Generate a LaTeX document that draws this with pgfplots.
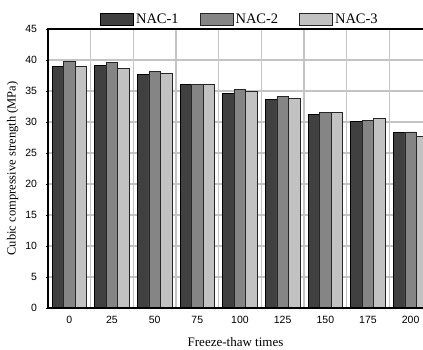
\documentclass[border=0pt]{standalone}
\usepackage{fontspec}
\setmainfont{Liberation Serif}
\newfontfamily\arialf{Liberation Sans}
\usepackage{pgfplots}
\pgfplotsset{compat=1.18}
\definecolor{cA}{HTML}{404040}
\definecolor{cB}{HTML}{858585}
\definecolor{cC}{HTML}{C2C2C2}
\definecolor{gridc}{HTML}{C4C4C4}
\pgfplotsset{mylegend/.style={legend image code/.code={\draw[##1] (0pt,-6pt) rectangle (33pt,6pt);}}}
\begin{document}
\begin{tikzpicture}
\path[use as bounding box] (-48pt,-42pt) rectangle (375pt,308pt);
\begin{axis}[
  name=ax,
  at={(0,0)}, anchor=south west,
  scale only axis, width=375pt, height=279pt,
  xmin=-0.5, xmax=8.289, ymin=0, ymax=45,
  axis x line=box, axis y line=left,
  y axis line style={-},
  ybar=0pt, bar width=11.5pt,
  xtick={0,...,8},
  xticklabels={0,25,50,75,100,125,150,175,200},
  ytick={0,5,...,45},
  major tick length=3pt,
  xtick pos=bottom, ytick pos=left,
  xtick align=inside, ytick align=center,
  tick style={black, line width=0.8pt},
  axis line style={black, line width=1.3pt},
  /pgf/number format/assume math mode=true,
  tick label style={font=\arialf\fontsize{10.5}{12}\selectfont},
  yticklabel style={xshift=-6pt},
  xticklabel style={yshift=-5pt},
  xlabel={Freeze-thaw times},
  ylabel={Cubic compressive strength (MPa)},
  xlabel style={font=\fontsize{13}{15}\selectfont, yshift=-7pt},
  ylabel style={font=\fontsize{12.5}{14}\selectfont},
  legend style={at={(0.512,1)}, anchor=south, draw=none, fill=none,
    legend columns=3, font=\fontsize{14.5}{16}\selectfont,
    /tikz/every even column/.append style={column sep=19pt}},
]
\pgfplotsinvokeforeach{0.5,1.5,2.5,3.5,4.5,5.5,6.5,7.5}{
  \fill[gridc] ([xshift=-0.8pt]axis cs:#1,0) rectangle ([xshift=0.8pt]axis cs:#1,45);
}
\pgfplotsinvokeforeach{5,10,15,20,25,30,35,40}{
  \fill[gridc] ([yshift=-0.8pt]axis cs:-0.5,#1) rectangle ([yshift=0.8pt]axis cs:8.289,#1);
}
\addplot[fill=cA, draw=black, line width=0.8pt, mylegend] coordinates {
(0,39.0) (1,39.1) (2,37.7) (3,36.0) (4,34.6) (5,33.7) (6,31.2) (7,30.1) (8,28.3)};
\addplot[fill=cB, draw=black!85, line width=0.8pt, mylegend] coordinates {
(0,39.7) (1,39.6) (2,38.1) (3,36.1) (4,35.3) (5,34.1) (6,31.6) (7,30.3) (8,28.4)};
\addplot[fill=cC, draw=black!85, line width=0.8pt, mylegend] coordinates {
(0,39.0) (1,38.6) (2,37.9) (3,36.0) (4,34.9) (5,33.8) (6,31.5) (7,30.5) (8,27.7)};
\legend{NAC-1,NAC-2,NAC-3}
\end{axis}
\fill[black] ([xshift=-0.65pt,yshift=-0.65pt]ax.south west) rectangle ([xshift=0.65pt,yshift=0.65pt]ax.north west);
\fill[black] ([xshift=-0.65pt,yshift=-0.65pt]ax.north west) rectangle ([yshift=0.65pt]ax.north east);
\fill[black] ([xshift=-0.65pt,yshift=-0.65pt]ax.south west) rectangle ([yshift=0.65pt]ax.south east);
\end{tikzpicture}
\end{document}
